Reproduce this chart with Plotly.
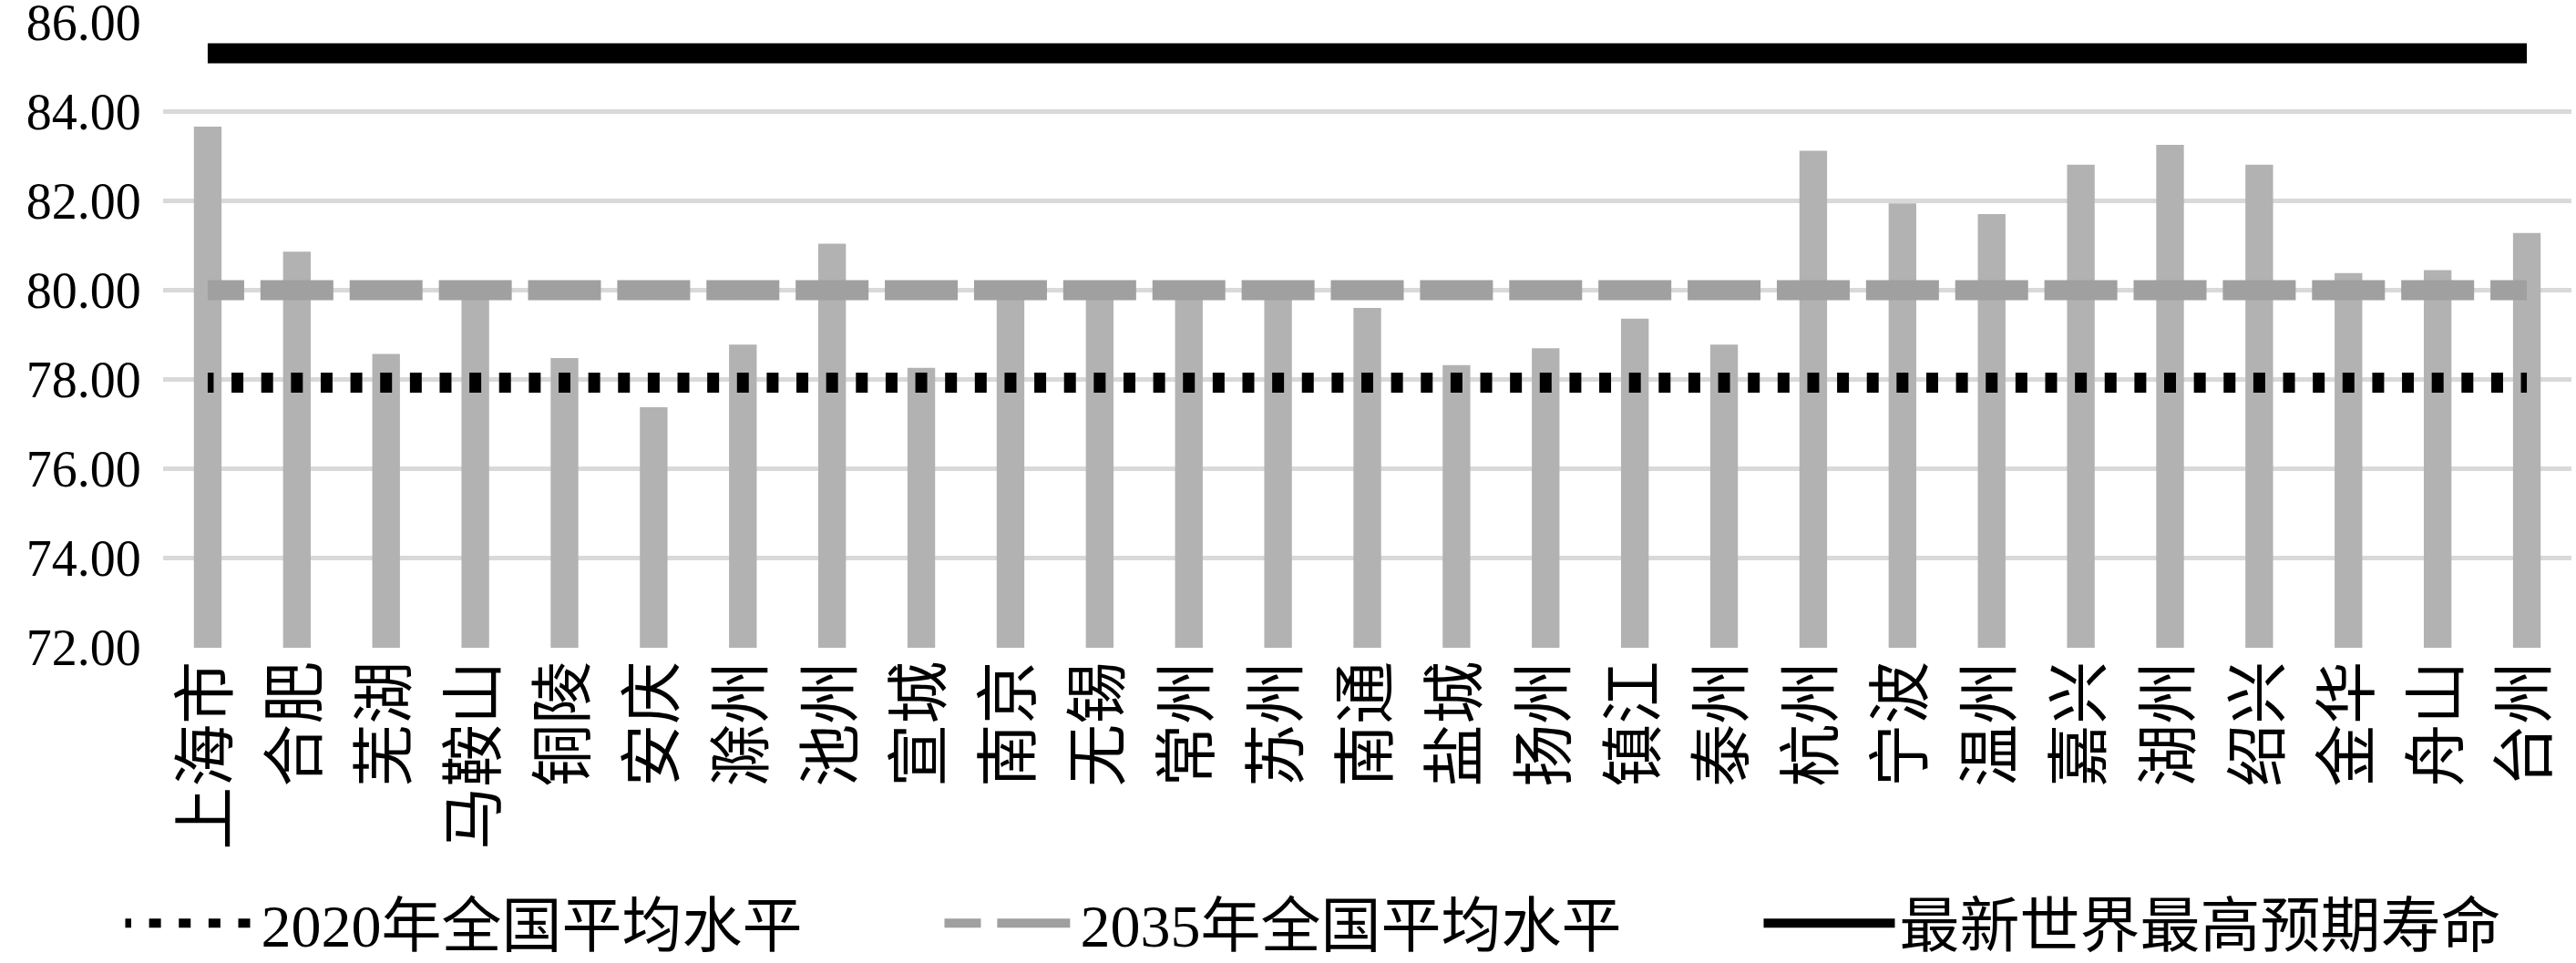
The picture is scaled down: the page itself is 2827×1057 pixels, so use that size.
import plotly.graph_objects as go

cities = ["上海市", "合肥", "芜湖", "马鞍山", "铜陵", "安庆", "滁州", "池州", "宣城",
          "南京", "无锡", "常州", "苏州", "南通", "盐城", "扬州", "镇江", "泰州",
          "杭州", "宁波", "温州", "嘉兴", "湖州", "绍兴", "金华", "舟山", "台州"]
life_expectancy = [83.66, 80.86, 78.57, 80.00, 78.48, 77.38, 78.78, 81.04, 78.26,
                   80.00, 80.02, 80.03, 80.15, 79.60, 78.32, 78.70, 79.36, 78.78,
                   83.12, 81.94, 81.70, 82.81, 83.25, 82.81, 80.38, 80.45, 81.28]
national_avg_2020 = 77.93
national_avg_2035 = 80.00
world_highest = 85.30

series_names = ["2020年全国平均水平", "2035年全国平均水平", "最新世界最高预期寿命"]
y_ticks = [72, 74, 76, 78, 80, 82, 84, 86]

W, H = 2827, 1057
ML, MR, MT, MB = 179, 5, 24, 346
cat_px = (W - ML - MR) / len(cities)

FONT = '"Liberation Serif", "Times New Roman", Times, "Noto Sans CJK SC", serif'
NUM_FONT = '"Liberation Serif", "Times New Roman", Times, serif'

fig = go.Figure()
fig.add_trace(go.Bar(x=cities, y=life_expectancy, base=0, marker=dict(color="#b2b2b2", line=dict(width=0)),
                     showlegend=False, hoverinfo="x+y"))

dot_on = 6.5
dot_off = cat_px / 3 - 2 * dot_on
fig.add_trace(go.Scatter(x=cities, y=[national_avg_2020] * len(cities), mode="lines", name=series_names[0],
                         line=dict(color="#000000", width=22,
                                   dash=f"{dot_on:.2f}px,{dot_off:.2f}px,{dot_on:.2f}px,0px")))
dash_on = 40
dash_off = cat_px - 2 * dash_on
fig.add_trace(go.Scatter(x=cities, y=[national_avg_2035] * len(cities), mode="lines", name=series_names[1],
                         line=dict(color="#a0a0a0", width=22,
                                   dash=f"{dash_on:.2f}px,{dash_off:.2f}px,{dash_on:.2f}px,0px")))
fig.add_trace(go.Scatter(x=cities, y=[world_highest] * len(cities), mode="lines", name=series_names[2],
                         line=dict(color="#000000", width=22)))

fig.update_layout(
    template="none",
    width=W, height=H,
    margin=dict(l=ML, r=MR, t=MT, b=MB, pad=0, autoexpand=False),
    paper_bgcolor="white", plot_bgcolor="white",
    font=dict(family=FONT, size=66, color="black"),
    bargap=0.69,
    showlegend=True,
    legend=dict(orientation="h", x=-0.0176, xref="paper", xanchor="left", y=-0.44, yanchor="middle",
                font=dict(family=FONT, size=66, color="black"), itemwidth=144,
                entrywidth=740, tracegroupgap=0, bgcolor="rgba(0,0,0,0)", borderwidth=0),
)
fig.update_xaxes(type="category", range=[-0.5, len(cities) - 0.5], showgrid=False, showline=False,
                 zeroline=False, ticks="", tickangle=-90, automargin=False,
                 tickfont=dict(family=FONT, size=69, color="black"))
fig.update_yaxes(range=[71.995, 86.005], tickvals=y_ticks, tickformat=".2f", showgrid=True, gridcolor="#d9d9d9",
                 gridwidth=5, zeroline=False, showline=False, ticks="outside", ticklen=12,
                 tickcolor="rgba(0,0,0,0)", automargin=False,
                 ticklabeloverflow="allow", tickfont=dict(family=NUM_FONT, size=56, color="black"))

fig.write_html("out.html", config={"displayModeBar": False},
               post_script="document.body.style.margin='0';document.body.style.overflow='hidden';")
